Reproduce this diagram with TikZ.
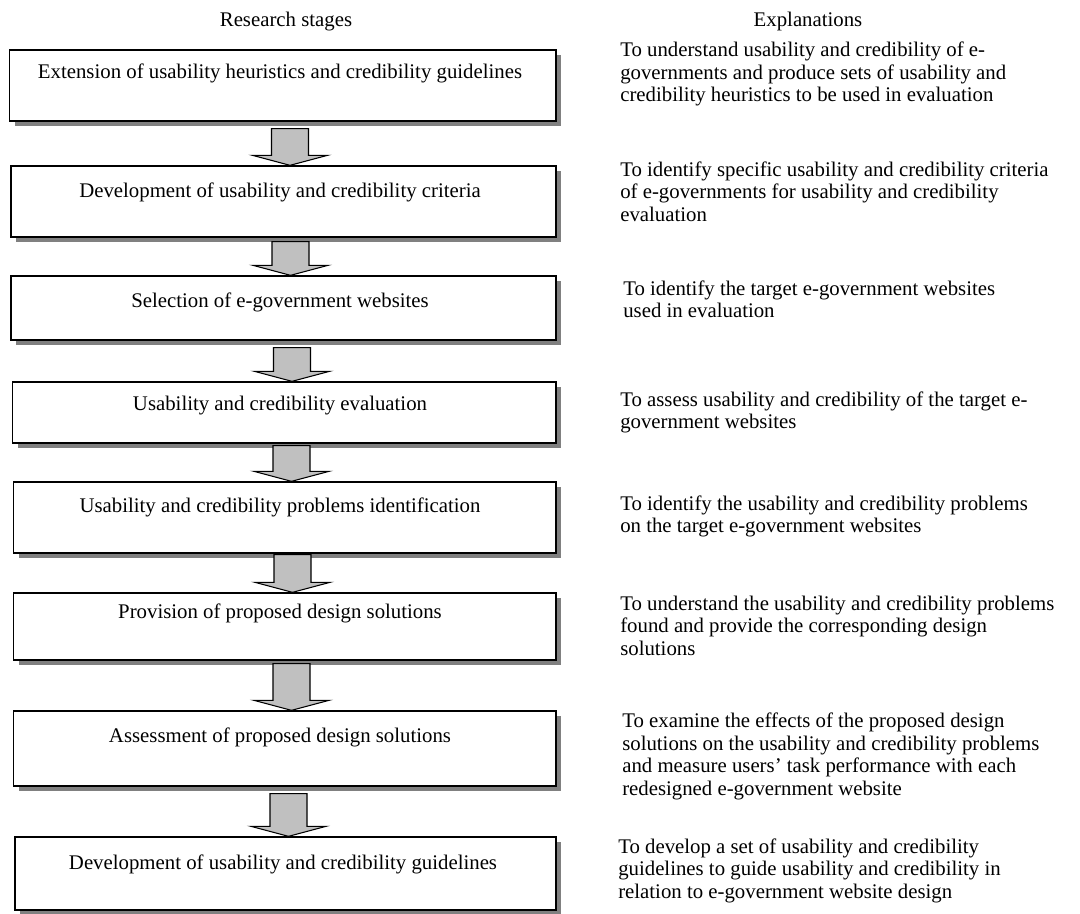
\documentclass[tikz,border=0pt]{standalone}
\usepackage{fontspec}
\setmainfont{Liberation Serif}
\usetikzlibrary{shadows,fit,calc}
\definecolor{shadowgray}{HTML}{808080}
\definecolor{arrowgray}{HTML}{C0C0C0}
\newcommand{\fsz}{\fontsize{15.6pt}{16.875pt}\selectfont}
\newcommand{\stagearrow}[4]{%
  \coordinate (atop) at ($(#3,0 |- #1.south)+(0,#4)$);
  \coordinate (atip) at (#3,0 |- #2.north);
  \draw[blockarrow] ($(atop)+(-18.5,0)$) -- ($(atop)+(18.5,0)$) -- ($(atip)+(18.5,-10)$)
    -- ($(atip)+(37.5,-10)$) -- (atip) -- ($(atip)+(-37.5,-10)$) -- ($(atip)+(-18.5,-10)$) -- cycle;}
\newcommand{\notelines}[1]{\begin{tabular}[t]{@{}l@{}}#1\end{tabular}}
\begin{document}
\begin{tikzpicture}[x=0.75pt,y=-0.75pt,
  stagebox/.style={draw=black, line width=1pt, fill=white, inner sep=0pt,
    drop shadow={shadow xshift=3.75pt, shadow yshift=-3.75pt, fill=shadowgray, opacity=1}},
  stagetext/.style={font=\fsz, anchor=base, inner sep=0pt},
  heading/.style={font=\fsz, anchor=base, inner sep=0pt},
  note/.style={font=\fsz, anchor=base west, inner sep=0pt},
  blockarrow/.style={draw=black, line width=0.8pt, fill=arrowgray, line join=miter}]
\useasboundingbox[fill=white] (0,0) rectangle (1080,913);

\node[heading] (h1) at (286,27) {Research stages};
\node[heading] (h2) at (808,27) {Explanations};

\node[stagebox, fit={(9.5,50) (556,121)}] (b1) {};
\node[stagebox, fit={(11,166) (556,237)}] (b2) {};
\node[stagebox, fit={(11,276) (556,340)}] (b3) {};
\node[stagebox, fit={(12.5,382) (556,443)}] (b4) {};
\node[stagebox, fit={(13.5,482) (556,553)}] (b5) {};
\node[stagebox, fit={(13.5,593) (556,660)}] (b6) {};
\node[stagebox, fit={(13.5,711) (556,786)}] (b7) {};
\node[stagebox, fit={(15,837) (556,910)}] (b8) {};

\node[stagetext] (l1) at (280,79) {Extension of usability heuristics and credibility guidelines};
\node[stagetext] (l2) at (280,197) {Development of usability and credibility criteria};
\node[stagetext] (l3) at (280,307) {Selection of e-government websites};
\node[stagetext] (l4) at (280,410) {Usability and credibility evaluation};
\node[stagetext] (l5) at (280,512) {Usability and credibility problems identification};
\node[stagetext] (l6) at (280,618) {Provision of proposed design solutions};
\node[stagetext] (l7) at (280,742) {Assessment of proposed design solutions};
\node[stagetext] (l8) at (283,869) {Development of usability and credibility guidelines};

\stagearrow{b1}{b2}{290}{7}
\stagearrow{b2}{b3}{290.5}{4}
\stagearrow{b3}{b4}{292}{7}
\stagearrow{b4}{b5}{291.5}{2}
\stagearrow{b5}{b6}{292.5}{1}
\stagearrow{b6}{b7}{291.5}{3}
\stagearrow{b7}{b8}{288.5}{7}

\node[note] (e1) at (620,57) {\notelines{To understand usability and credibility of e-\\governments and produce sets of usability and\\credibility heuristics to be used in evaluation}};
\node[note] (e2) at (620,176) {\notelines{To identify specific usability and credibility criteria\\of e-governments for usability and credibility\\evaluation}};
\node[note] (e3) at (623,295) {\notelines{To identify the target e-government websites\\used in evaluation}};
\node[note] (e4) at (620,406) {\notelines{To assess usability and credibility of the target e-\\government websites}};
\node[note] (e5) at (620,510) {\notelines{To identify the usability and credibility problems\\on the target e-government websites}};
\node[note] (e6) at (620,610) {\notelines{To understand the usability and credibility problems\\found and provide the corresponding design\\solutions}};
\node[note] (e7) at (622,727.5) {\notelines{To examine the effects of the proposed design\\solutions on the usability and credibility problems\\and measure users’ task performance with each\\redesigned e-government website}};
\node[note] (e8) at (618,853) {\notelines{To develop a set of usability and credibility\\guidelines to guide usability and credibility in\\relation to e-government website design}};
\end{tikzpicture}
\end{document}
